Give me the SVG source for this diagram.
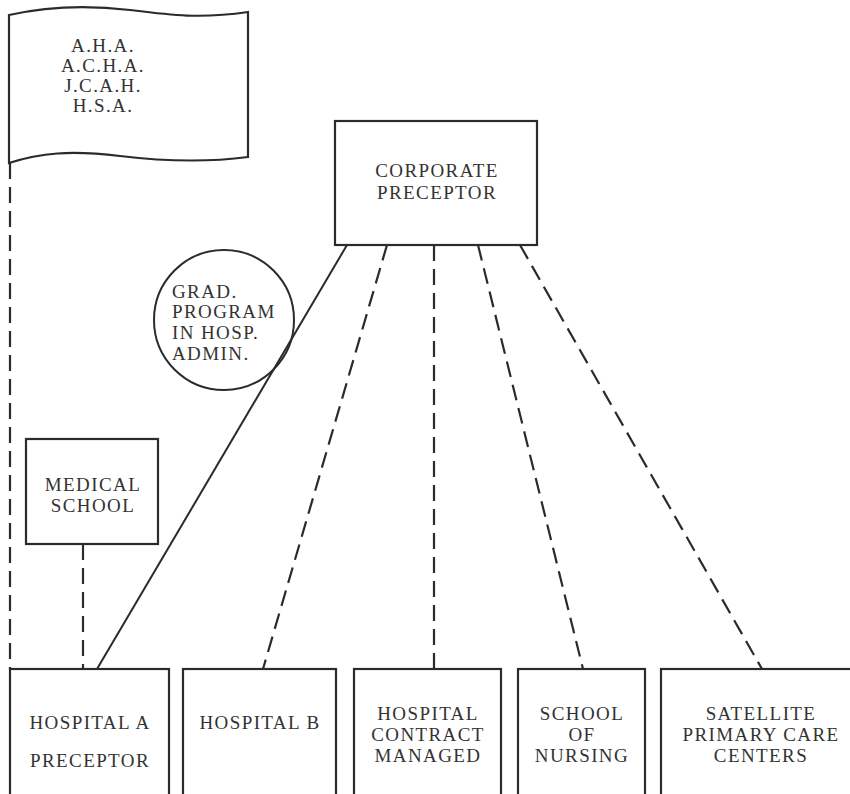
<svg xmlns="http://www.w3.org/2000/svg" width="850" height="794" viewBox="0 0 850 794">
<style>
  .box { fill: #ffffff; stroke: #2b2b2b; stroke-width: 2.2; }
  .solid { fill: none; stroke: #2b2b2b; stroke-width: 2; }
  .dash { fill: none; stroke: #2b2b2b; stroke-width: 2.2; stroke-dasharray: 16 8; }
  text { font-family: "Liberation Serif", "Times New Roman", serif; font-size: 19px; letter-spacing: 1.4px; fill: #333333; text-anchor: middle; }
  .left { text-anchor: start; }
</style>
<rect width="850" height="794" fill="#ffffff"/>
<g id="connectors">
  <line class="dash" x1="10" y1="163" x2="10" y2="669"/>
  <line class="dash" x1="83" y1="544" x2="83" y2="669"/>
  <line class="solid" x1="347" y1="245" x2="97" y2="669"/>
  <line class="dash" x1="387" y1="245" x2="263" y2="669"/>
  <line class="dash" x1="434" y1="245" x2="434" y2="669"/>
  <line class="dash" x1="478" y1="245" x2="583" y2="669"/>
  <line class="dash" x1="520" y1="245" x2="762" y2="669"/>
</g>
<g id="flag">
  <path class="box" d="M9,15 C40,8 80,4 130,10 C170,15 200,19 248,12 L248,157 C210,162 170,162 120,156 C70,150 40,153 9,163 Z"/>
  <text x="103" y="52">A.H.A.</text>
  <text x="103" y="72">A.C.H.A.</text>
  <text x="103" y="92">J.C.A.H.</text>
  <text x="103" y="112">H.S.A.</text>
</g>
<g id="corporate-preceptor">
  <rect class="box" x="335" y="121" width="202" height="124"/>
  <text x="437" y="177">CORPORATE</text>
  <text x="437" y="199">PRECEPTOR</text>
</g>
<g id="grad-program">
  <circle fill="none" stroke="#2b2b2b" stroke-width="2" cx="224" cy="320" r="70"/>
  <text class="left" x="172" y="298">GRAD.</text>
  <text class="left" x="172" y="318">PROGRAM</text>
  <text class="left" x="172" y="339">IN HOSP.</text>
  <text class="left" x="172" y="360">ADMIN.</text>
</g>
<g id="medical-school">
  <rect class="box" x="26" y="439" width="132" height="105"/>
  <text x="93" y="491">MEDICAL</text>
  <text x="93" y="512">SCHOOL</text>
</g>
<g id="hospital-a">
  <rect class="box" x="10" y="669" width="159" height="140"/>
  <text x="90" y="729">HOSPITAL A</text>
  <text x="90" y="767">PRECEPTOR</text>
</g>
<g id="hospital-b">
  <rect class="box" x="183" y="669" width="153" height="140"/>
  <text x="260" y="729">HOSPITAL B</text>
</g>
<g id="hospital-contract">
  <rect class="box" x="354" y="669" width="147" height="140"/>
  <text x="428" y="720">HOSPITAL</text>
  <text x="428" y="741">CONTRACT</text>
  <text x="428" y="762">MANAGED</text>
</g>
<g id="school-of-nursing">
  <rect class="box" x="518" y="669" width="127" height="140"/>
  <text x="582" y="720">SCHOOL</text>
  <text x="582" y="741">OF</text>
  <text x="582" y="762">NURSING</text>
</g>
<g id="satellite">
  <rect class="box" x="661" y="669" width="200" height="140"/>
  <text x="761" y="720">SATELLITE</text>
  <text x="761" y="741">PRIMARY CARE</text>
  <text x="761" y="762">CENTERS</text>
</g>
</svg>
